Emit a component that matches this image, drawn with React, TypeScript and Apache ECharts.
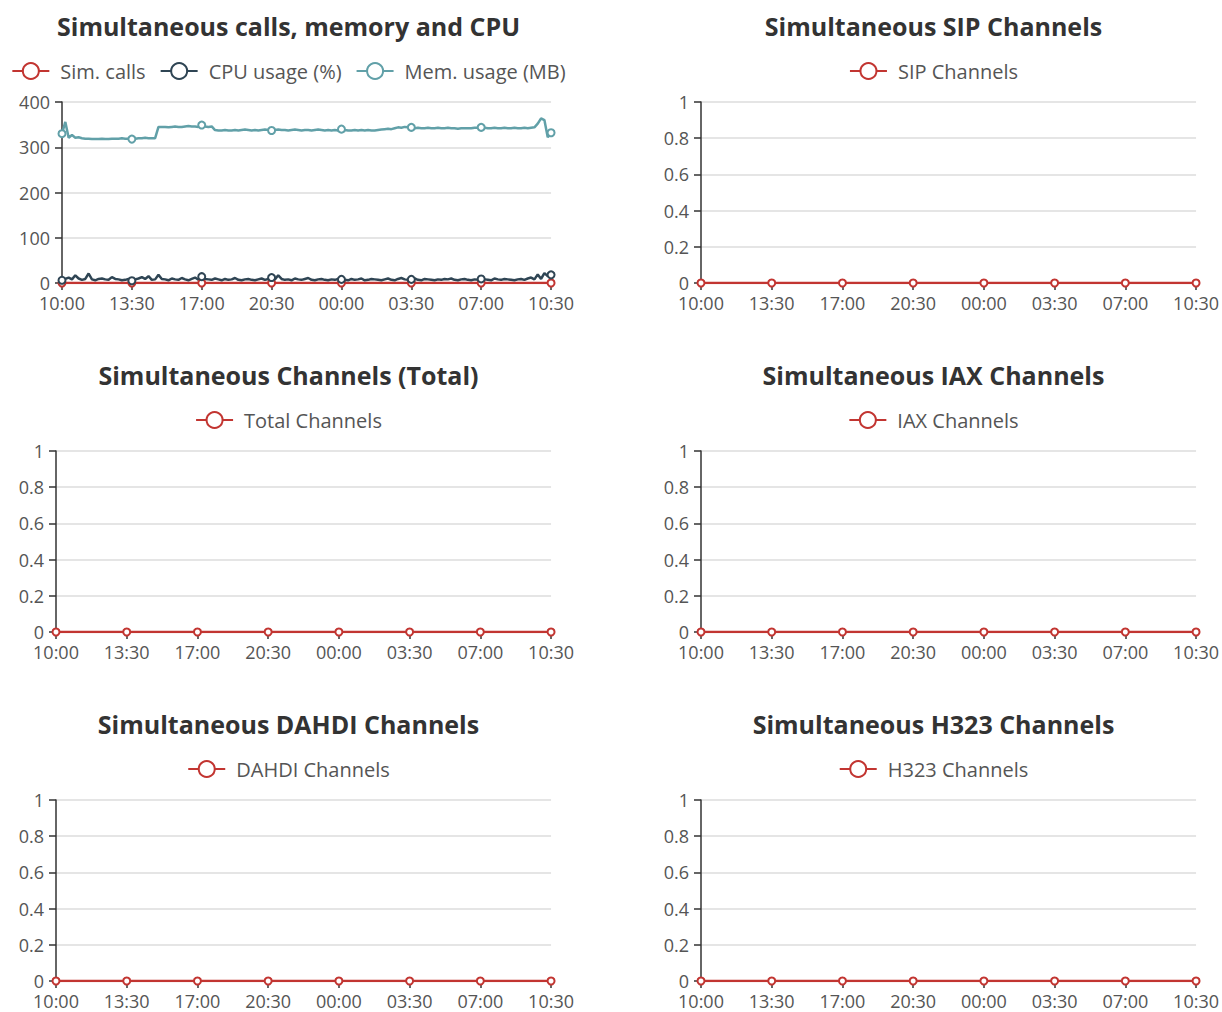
import React, { useEffect, useRef } from "react";
import * as echarts from "echarts";

const FONT = "'Open Sans', 'Noto Sans', 'DejaVu Sans', sans-serif";
const PALETTE = ["#c23531", "#2f4554", "#61a0a8"];

// Time categories: 10:00 to 10:30 next day, one sample every 10 minutes
const timeLabels: string[] = [];
for (let m = 600; m <= 2070; m += 10) {
  const h = Math.floor(m / 60) % 24;
  const mm = m % 60;
  timeLabels.push(`${h < 10 ? "0" : ""}${h}:${mm < 10 ? "0" : ""}${mm}`);
}

// 148 samples, all zero
const idleChannels: number[] = [
  0, 0, 0, 0, 0, 0, 0, 0, 0, 0, 0, 0, 0, 0, 0, 0, 0, 0, 0, 0, 0,
  0, 0, 0, 0, 0, 0, 0, 0, 0, 0, 0, 0, 0, 0, 0, 0, 0, 0, 0, 0, 0,
  0, 0, 0, 0, 0, 0, 0, 0, 0, 0, 0, 0, 0, 0, 0, 0, 0, 0, 0, 0, 0,
  0, 0, 0, 0, 0, 0, 0, 0, 0, 0, 0, 0, 0, 0, 0, 0, 0, 0, 0, 0, 0,
  0, 0, 0, 0, 0, 0, 0, 0, 0, 0, 0, 0, 0, 0, 0, 0, 0, 0, 0, 0, 0,
  0, 0, 0, 0, 0, 0, 0, 0, 0, 0, 0, 0, 0, 0, 0, 0, 0, 0, 0, 0, 0,
  0, 0, 0, 0, 0, 0, 0, 0, 0, 0, 0, 0, 0, 0, 0, 0, 0, 0, 0, 0, 0,
  0,
];

const simCalls = idleChannels;

const cpuUsage: number[] = [
  6, 9, 12, 8, 17, 10, 7, 9, 21, 8, 6, 9, 10, 8, 7, 13, 9, 8, 6, 7, 9,
  5, 8, 10, 13, 9, 15, 7, 8, 18, 9, 8, 6, 10, 8, 7, 11, 8, 6, 9, 12, 7,
  14, 9, 8, 7, 10, 8, 6, 9, 7, 8, 11, 7, 6, 8, 9, 7, 6, 8, 10, 7, 9,
  12, 8, 17, 9, 7, 8, 6, 10, 8, 7, 9, 11, 7, 6, 8, 9, 7, 6, 8, 7, 9,
  8, 7, 6, 9, 7, 8, 10, 6, 7, 9, 8, 7, 6, 8, 10, 7, 6, 9, 11, 8, 7,
  8, 10, 7, 6, 9, 8, 7, 6, 8, 7, 9, 8, 10, 7, 6, 8, 9, 7, 6, 8, 7,
  9, 8, 7, 6, 10, 8, 7, 9, 8, 7, 6, 8, 9, 7, 10, 12, 8, 19, 9, 22, 15,
  18,
];

const memUsage: number[] = [
  330, 356, 321, 327, 321, 322, 320, 319, 319, 318, 318, 318, 319, 318, 318, 319, 319, 319, 320, 319, 319,
  318, 319, 320, 320, 321, 320, 320, 320, 345, 345, 345, 344, 345, 346, 345, 345, 346, 347, 346, 346, 345,
  349, 346, 345, 346, 338, 337, 337, 338, 337, 337, 338, 337, 338, 339, 338, 337, 338, 337, 338, 339, 338,
  337, 338, 339, 338, 338, 337, 338, 339, 338, 337, 338, 338, 337, 338, 339, 338, 337, 338, 337, 338, 337,
  340, 338, 337, 337, 338, 337, 338, 337, 338, 337, 337, 338, 339, 340, 341, 340, 342, 344, 343, 345, 344,
  344, 342, 343, 342, 342, 343, 342, 342, 343, 342, 342, 343, 342, 342, 341, 342, 342, 342, 342, 343, 343,
  344, 343, 342, 342, 343, 342, 342, 343, 342, 342, 343, 342, 342, 343, 342, 343, 344, 352, 364, 360, 322,
  332,
];

const sipChannels = idleChannels;
const totalChannels = idleChannels;
const iaxChannels = idleChannels;
const dahdiChannels = idleChannels;
const h323Channels = idleChannels;

const usageTicks = { min: 0, max: 400, interval: 100 };
const channelTicks = { min: 0, max: 1, interval: 0.2 };

type SeriesDef = { name: string; data: number[]; color: string };
type ChartDef = {
  title: string;
  series: SeriesDef[];
  ticks: { min: number; max: number; interval: number };
  x: number;
  y: number;
  h: number;
  gridLeft: number;
  gridRight: number;
};

const W = 577;

const charts: ChartDef[] = [
  {
    title: "Simultaneous calls, memory and CPU",
    series: [
      { name: "Sim. calls", data: simCalls, color: PALETTE[0] },
      { name: "CPU usage (%)", data: cpuUsage, color: PALETTE[1] },
      { name: "Mem. usage (MB)", data: memUsage, color: PALETTE[2] },
    ],
    ticks: usageTicks,
    x: 0, y: 0, h: 349, gridLeft: 62, gridRight: 22,
  },
  {
    title: "Simultaneous SIP Channels",
    series: [{ name: "SIP Channels", data: sipChannels, color: PALETTE[0] }],
    ticks: channelTicks,
    x: 645, y: 0, h: 349, gridLeft: 56, gridRight: 25,
  },
  {
    title: "Simultaneous Channels (Total)",
    series: [{ name: "Total Channels", data: totalChannels, color: PALETTE[0] }],
    ticks: channelTicks,
    x: 0, y: 349, h: 349, gridLeft: 56, gridRight: 22,
  },
  {
    title: "Simultaneous IAX Channels",
    series: [{ name: "IAX Channels", data: iaxChannels, color: PALETTE[0] }],
    ticks: channelTicks,
    x: 645, y: 349, h: 349, gridLeft: 56, gridRight: 25,
  },
  {
    title: "Simultaneous DAHDI Channels",
    series: [{ name: "DAHDI Channels", data: dahdiChannels, color: PALETTE[0] }],
    ticks: channelTicks,
    x: 0, y: 698, h: 314, gridLeft: 56, gridRight: 22,
  },
  {
    title: "Simultaneous H323 Channels",
    series: [{ name: "H323 Channels", data: h323Channels, color: PALETTE[0] }],
    ticks: channelTicks,
    x: 645, y: 698, h: 314, gridLeft: 56, gridRight: 25,
  },
];

function buildOption(c: ChartDef) {
  return {
    animation: false,
    title: {
      text: c.title,
      left: "center",
      top: 13,
      padding: 0,
      textStyle: { fontFamily: FONT, fontSize: 25, fontWeight: "bold", color: "#333" },
    },
    legend: {
      top: 61,
      left: "center",
      padding: 0,
      itemWidth: 37,
      itemHeight: 20,
      itemGap: 14,
      data: c.series.map((s) => s.name),
      textStyle: { fontFamily: FONT, fontSize: 20, color: "#555", padding: [0, 0, 0, 6] },
    },
    grid: { left: c.gridLeft, right: c.gridRight, top: 102, height: 181 },
    xAxis: {
      type: "category",
      boundaryGap: false,
      data: timeLabels,
      axisLine: { show: true, lineStyle: { color: "#333", width: 1.5 } },
      axisTick: { show: true, length: 7, interval: 20, lineStyle: { color: "#333", width: 1.5 } },
      axisLabel: {
        interval: 20,
        margin: 12,
        fontFamily: FONT,
        fontSize: 18,
        lineHeight: 16,
        color: "#555",
      },
      splitLine: { show: false },
    },
    yAxis: {
      type: "value",
      min: c.ticks.min,
      max: c.ticks.max,
      interval: c.ticks.interval,
      axisLine: { show: true, lineStyle: { color: "#333", width: 1.5 } },
      axisTick: { show: true, length: 7, lineStyle: { color: "#333", width: 1.5 } },
      axisLabel: { margin: 12, fontFamily: FONT, fontSize: 18, lineHeight: 16, color: "#555" },
      splitLine: { show: true, lineStyle: { color: "#dcdcdc", width: 1.5 } },
    },
    series: c.series.map((s) => ({
      name: s.name,
      type: "line",
      data: s.data,
      symbol: "emptyCircle",
      symbolSize: 7,
      showAllSymbol: "auto",
      itemStyle: { color: s.color, borderWidth: 1.5 },
      lineStyle: { color: s.color, width: 2.5 },
    })),
  };
}

function Chart({ def }: { def: ChartDef }) {
  const ref = useRef<HTMLDivElement>(null);
  useEffect(() => {
    if (!ref.current) return;
    const inst = echarts.init(ref.current, undefined, { renderer: "svg" });
    inst.setOption(buildOption(def) as any);
    return () => inst.dispose();
  }, [def]);
  return (
    <div
      ref={ref}
      style={{ position: "absolute", left: def.x, top: def.y, width: W, height: def.h }}
    />
  );
}

export default function App() {
  return (
    <div
      style={{
        position: "fixed",
        left: 0,
        top: 0,
        width: 1222,
        height: 1012,
        overflow: "hidden",
        background: "#ffffff",
      }}
    >
      {charts.map((c, i) => (
        <Chart key={i} def={c} />
      ))}
    </div>
  );
}
